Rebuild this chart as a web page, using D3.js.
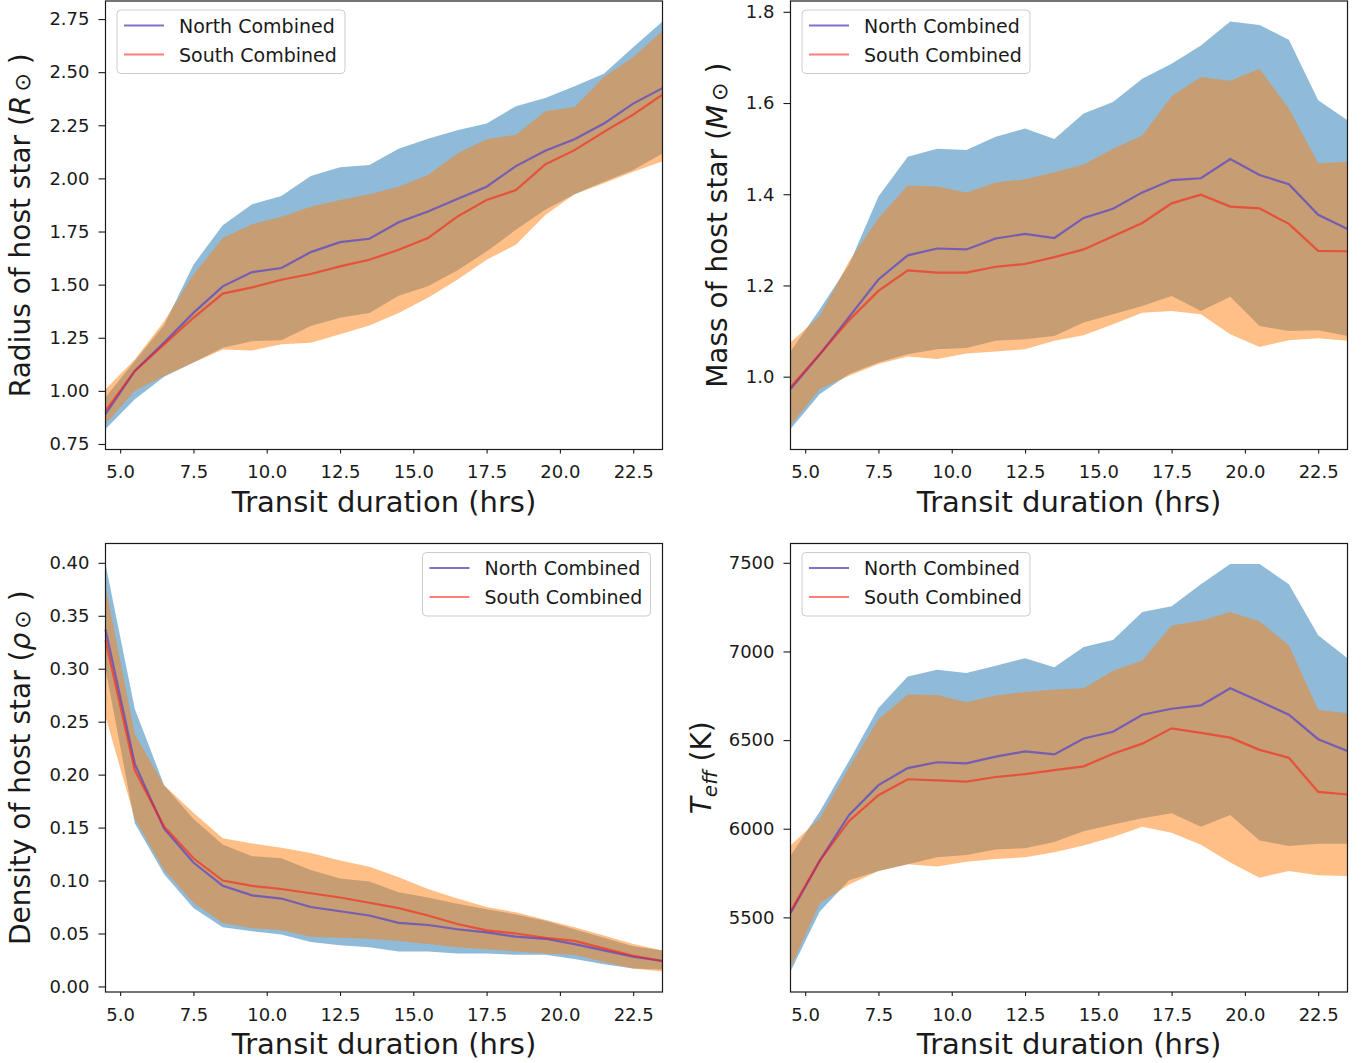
<!doctype html>
<html>
<head>
<meta charset="utf-8">
<script src="https://d3js.org/d3.v7.min.js"></script>
<style>
  body { margin: 0; background: #fff; }
  text { font-family: "DejaVu Sans", sans-serif; fill: #1a1a1a; }
</style>
</head>
<body>
<div id="chart"></div>
<script>
// transit duration bins (hrs)
var duration = [4.5, 5.5, 6.5, 7.5, 8.5, 9.5, 10.5, 11.5, 12.5, 13.5,
                14.5, 15.5, 16.5, 17.5, 18.5, 19.5, 20.5, 21.5, 22.5, 23.5];
var xTicks = [5.0, 7.5, 10.0, 12.5, 15.0, 17.5, 20.0, 22.5];
var seriesNames = ["North Combined", "South Combined"];

// radius of host star
var radiusNorth   = [0.891,1.094,1.227,1.367,1.492,1.559,1.578,1.653,1.700,1.716,1.794,1.844,1.903,1.961,2.058,2.130,2.184,2.258,2.352,2.425];
var radiusNorthLo = [0.820,0.961,1.066,1.133,1.203,1.234,1.238,1.305,1.344,1.367,1.448,1.492,1.566,1.656,1.758,1.852,1.925,1.984,2.039,2.117];
var radiusNorthHi = [0.970,1.140,1.310,1.594,1.780,1.878,1.917,2.011,2.052,2.063,2.140,2.187,2.227,2.258,2.340,2.378,2.434,2.492,2.617,2.739];
var radiusSouth   = [0.906,1.094,1.219,1.344,1.458,1.487,1.523,1.550,1.586,1.617,1.664,1.719,1.820,1.898,1.945,2.066,2.133,2.219,2.300,2.394];
var radiusSouthLo = [0.844,1.000,1.070,1.133,1.195,1.190,1.219,1.227,1.266,1.308,1.367,1.438,1.523,1.617,1.688,1.828,1.925,1.977,2.031,2.081];
var radiusSouthHi = [1.008,1.148,1.328,1.547,1.719,1.784,1.820,1.867,1.898,1.925,1.961,2.016,2.117,2.184,2.206,2.316,2.336,2.477,2.570,2.695];
var radiusTicks = [0.75, 1.00, 1.25, 1.50, 1.75, 2.00, 2.25, 2.50, 2.75];

// mass of host star
var massNorth   = [0.973,1.049,1.131,1.213,1.266,1.281,1.279,1.303,1.313,1.304,1.348,1.368,1.404,1.431,1.435,1.477,1.442,1.422,1.355,1.324];
var massNorthLo = [0.885,0.962,1.006,1.031,1.049,1.060,1.063,1.079,1.082,1.089,1.119,1.137,1.155,1.177,1.144,1.175,1.111,1.100,1.102,1.089];
var massNorthHi = [1.055,1.148,1.246,1.395,1.482,1.500,1.497,1.526,1.544,1.521,1.577,1.602,1.653,1.686,1.726,1.779,1.771,1.739,1.606,1.562];
var massSouth   = [0.977,1.049,1.124,1.188,1.233,1.228,1.228,1.241,1.247,1.262,1.279,1.308,1.337,1.380,1.399,1.373,1.369,1.335,1.276,1.275];
var massSouthLo = [0.893,0.973,1.002,1.028,1.044,1.039,1.051,1.055,1.060,1.079,1.091,1.115,1.140,1.144,1.137,1.093,1.065,1.080,1.084,1.079];
var massSouthHi = [1.075,1.133,1.253,1.348,1.419,1.417,1.404,1.426,1.433,1.448,1.465,1.500,1.529,1.615,1.657,1.649,1.675,1.588,1.468,1.471];
var massTicks = [1.0, 1.2, 1.4, 1.6, 1.8];

// density of host star
var densNorth   = [0.337,0.210,0.149,0.117,0.095,0.086,0.083,0.075,0.071,0.067,0.060,0.058,0.054,0.051,0.047,0.045,0.040,0.034,0.028,0.024];
var densNorthLo = [0.300,0.154,0.106,0.074,0.056,0.052,0.049,0.042,0.039,0.037,0.033,0.033,0.031,0.031,0.030,0.030,0.026,0.021,0.017,0.016];
var densNorthHi = [0.399,0.262,0.190,0.158,0.134,0.123,0.121,0.110,0.102,0.099,0.089,0.084,0.078,0.073,0.068,0.062,0.054,0.046,0.038,0.034];
var densSouth   = [0.327,0.204,0.151,0.121,0.100,0.095,0.092,0.088,0.084,0.079,0.074,0.067,0.059,0.053,0.050,0.046,0.043,0.036,0.029,0.024];
var densSouthLo = [0.255,0.158,0.110,0.079,0.060,0.055,0.053,0.047,0.046,0.045,0.043,0.040,0.037,0.035,0.033,0.031,0.030,0.023,0.017,0.014];
var densSouthHi = [0.378,0.238,0.190,0.164,0.140,0.135,0.131,0.126,0.119,0.113,0.103,0.092,0.083,0.075,0.070,0.063,0.056,0.048,0.040,0.034];
var densTicks = [0.00, 0.05, 0.10, 0.15, 0.20, 0.25, 0.30, 0.35, 0.40];

// effective temperature
var teffNorth   = [5523,5820,6078,6246,6342,6375,6369,6407,6436,6419,6509,6547,6643,6677,6696,6792,6719,6643,6505,6438];
var teffNorthLo = [5194,5533,5710,5762,5800,5839,5852,5883,5890,5925,5986,6024,6059,6088,6011,6078,5934,5902,5915,5915];
var teffNorthHi = [5848,6097,6384,6681,6859,6897,6878,6920,6962,6911,7025,7064,7222,7255,7379,7494,7494,7379,7092,6962];
var teffSouth   = [5533,5820,6044,6189,6279,6273,6266,6292,6308,6331,6352,6423,6480,6566,6541,6514,6445,6400,6208,6193];
var teffSouthLo = [5217,5580,5686,5762,5800,5787,5814,5829,5839,5868,5906,5954,6011,5978,5910,5810,5724,5762,5737,5734];
var teffSouthHi = [5906,6059,6346,6618,6757,6754,6713,6752,6771,6786,6792,6891,6949,7146,7173,7222,7169,7035,6671,6652];
var teffTicks = [5500, 6000, 6500, 7000, 7500];

var W = 1369, H = 1063;
var colLeft = [105.5, 790.5], rowTop = [1, 543.5];
var plotW = 557, plotH = 448.5;
var northFill = "rgba(31,119,180,0.5)", southFill = "rgba(255,127,14,0.5)";
var northLine = "rgba(95,78,195,0.8)", southLine = "rgba(255,20,10,0.55)";

var svg = d3.select("#chart").append("svg")
  .attr("width", W).attr("height", H);

var panels = [
  {col: 0, row: 0, n: radiusNorth, nLo: radiusNorthLo, nHi: radiusNorthHi,
   s: radiusSouth, sLo: radiusSouthLo, sHi: radiusSouthHi, ticks: radiusTicks, fmt: ".2f",
   legend: "left", label: ["Radius of host star (", "R", "\u2299", " )"], labelX: 75.5},
  {col: 1, row: 0, n: massNorth, nLo: massNorthLo, nHi: massNorthHi,
   s: massSouth, sLo: massSouthLo, sHi: massSouthHi, ticks: massTicks, fmt: ".1f",
   legend: "left", label: ["Mass of host star (", "M", "\u2299", " )"], labelX: 63.5},
  {col: 0, row: 1, n: densNorth, nLo: densNorthLo, nHi: densNorthHi,
   s: densSouth, sLo: densSouthLo, sHi: densSouthHi, ticks: densTicks, fmt: ".2f",
   legend: "right", label: ["Density of host star (", "\u03c1", "\u2299", " )"], labelX: 75.5},
  {col: 1, row: 1, n: teffNorth, nLo: teffNorthLo, nHi: teffNorthHi,
   s: teffSouth, sLo: teffSouthLo, sHi: teffSouthHi, ticks: teffTicks, fmt: "d",
   legend: "left", label: null, labelX: 80}
];

panels.forEach(function(p) {
  var left = colLeft[p.col], top = rowTop[p.row];
  var g = svg.append("g").attr("transform", "translate(" + left + "," + top + ")");

  var all = p.nLo.concat(p.nHi, p.sLo, p.sHi, p.n, p.s);
  var lo = d3.min(all), hi = d3.max(all), pad = (hi - lo) * 0.05;

  var x = d3.scaleLinear().domain([4.5, 23.5]).range([0, plotW]);
  var y = d3.scaleLinear().domain([lo - pad, hi + pad]).range([plotH, 0]);

  function band(loArr, hiArr) {
    return d3.area()
      .x(function(d, i) { return x(duration[i]); })
      .y0(function(d, i) { return y(loArr[i]); })
      .y1(function(d, i) { return y(hiArr[i]); })(duration);
  }
  function line(arr) {
    return d3.line()
      .x(function(d, i) { return x(duration[i]); })
      .y(function(d, i) { return y(arr[i]); })(duration);
  }

  g.append("path").attr("d", band(p.nLo, p.nHi)).attr("fill", northFill);
  g.append("path").attr("d", band(p.sLo, p.sHi)).attr("fill", southFill);
  g.append("path").attr("d", line(p.n)).attr("fill", "none")
    .attr("stroke", northLine).attr("stroke-width", 2.2);
  g.append("path").attr("d", line(p.s)).attr("fill", "none")
    .attr("stroke", southLine).attr("stroke-width", 2.2);

  // axes
  var xa = g.append("g").attr("transform", "translate(0," + plotH + ")")
    .call(d3.axisBottom(x).tickValues(xTicks).tickFormat(d3.format(".1f"))
      .tickSize(4).tickPadding(12).tickSizeOuter(0));
  var ya = g.append("g")
    .call(d3.axisLeft(y).tickValues(p.ticks).tickFormat(d3.format(p.fmt))
      .tickSize(7).tickPadding(9).tickSizeOuter(0));
  [xa, ya].forEach(function(a) {
    a.select(".domain").remove();
    a.selectAll("line").attr("stroke", "#1a1a1a").attr("stroke-width", 1.1);
    a.selectAll("text").attr("font-size", 18).attr("font-family", "DejaVu Sans").attr("fill", "#1a1a1a");
  });

  g.append("rect").attr("width", plotW).attr("height", plotH)
    .attr("fill", "none").attr("stroke", "#1a1a1a").attr("stroke-width", 1.2);

  // x label
  g.append("text").attr("x", plotW / 2).attr("y", plotH + 62)
    .attr("text-anchor", "middle").attr("font-size", 29)
    .text("Transit duration (hrs)");

  // y label
  var yl = g.append("text")
    .attr("transform", "translate(" + (-p.labelX) + "," + (plotH / 2) + ") rotate(-90)")
    .attr("text-anchor", "middle").attr("font-size", 28);
  if (p.label) {
    yl.append("tspan").text(p.label[0]);
    yl.append("tspan").attr("font-style", "italic").text(p.label[1]);
    yl.append("tspan").attr("font-size", 22).attr("dx", 4).text(p.label[2]);
    yl.append("tspan").text(p.label[3]);
  } else {
    yl.append("tspan").attr("font-style", "italic").text("T");
    yl.append("tspan").attr("font-style", "italic").attr("font-size", 20).attr("dy", 6).text("eff");
    yl.append("tspan").attr("dy", -6).text(" (K)");
  }

  // legend
  var lw = 228, lh = 63.5;
  var lx = p.legend === "left" ? 11.5 : plotW - 12 - lw, ly = 9;
  var lg = g.append("g").attr("transform", "translate(" + lx + "," + ly + ")");
  lg.append("rect").attr("width", lw).attr("height", lh).attr("rx", 4)
    .attr("fill", "rgba(255,255,255,0.8)").attr("stroke", "#cccccc").attr("stroke-width", 1);
  [northLine, southLine].forEach(function(c, i) {
    var yy = 15.5 + i * 29;
    lg.append("line").attr("x1", 7).attr("x2", 47).attr("y1", yy).attr("y2", yy)
      .attr("stroke", c).attr("stroke-width", 2.2);
    lg.append("text").attr("x", 62).attr("y", yy + 7).attr("font-size", 19)
      .text(seriesNames[i]);
  });
});
</script>
</body>
</html>
